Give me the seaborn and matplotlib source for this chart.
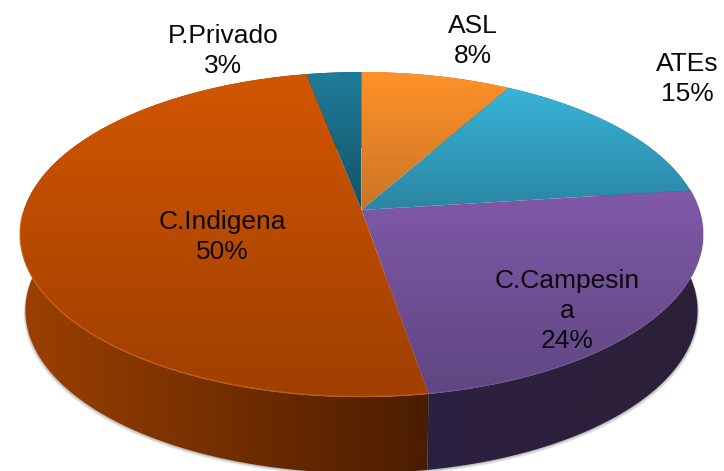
import numpy as np
import seaborn as sns
import matplotlib.pyplot as plt
from matplotlib.patches import Polygon

labels = ['ASL', 'ATEs', 'C.Campesin\na', 'C.Indigena', 'P.Privado']
shares = [8.2, 14.8, 24.3, 49.7, 3]

top_light = ['#ff9229', '#38b3d8', '#8059a8', '#d25600', '#1e7d9b']
top_dark = ['#cb7426', '#2a86a2', '#5f4682', '#9f3f00', '#145265']
side_light = ['#a8601c', '#1f6378', '#2c2040', '#9c4000', '#10404f']
side_dark = ['#a8601c', '#1f6378', '#2c2039', '#4a1d00', '#10404f']

label_x = [473, 687, 567, 222, 223]
label_y = [41, 79, 311, 237, 51]

# pie centre and perspective of the tilted disc
cx, cy = 361.5, 210
rx, ry, k = 337.6, 158.8, 0.151
depth = 76

sns.set_style('white')
plt.rcParams['font.family'] = ['Liberation Sans', 'DejaVu Sans']

fig = plt.figure(figsize=(7.24, 4.71), dpi=100)
ax = fig.add_axes([0, 0, 1, 1])
ax.set_xlim(0, 724)
ax.set_ylim(471, 0)
ax.axis('off')


def project(angle, shrink=1.0, drop=0):
    u, v = np.sin(angle), np.cos(angle)
    w = 1 + k * v
    return np.column_stack([cx + rx * shrink * u / w, cy + drop - ry * v / w])


def shade(poly, c1, c2, horizontal=False, zorder=2):
    # gradient image clipped to the slice
    pal = sns.blend_palette([c1, c2], 128)
    img = np.array(pal)[None, :, :] if horizontal else np.array(pal)[:, None, :]
    ext = poly.get_xy()
    x0, x1, y0, y1 = ext[:, 0].min(), ext[:, 0].max(), ext[:, 1].min(), ext[:, 1].max()
    im = ax.imshow(img, extent=[x0, x1, y1, y0], aspect='auto', zorder=zorder, interpolation='bilinear')
    ax.add_patch(poly)
    im.set_clip_path(poly)


edges = np.cumsum([0] + shares) / sum(shares) * 2 * np.pi
front = np.radians(np.linspace(85, 275, 300))

# soft shadow under the wall, front side only
for grow, alpha in [(3, 0.10), (2, 0.16), (1, 0.22)]:
    ring = project(front, 0.984, depth + grow)
    ring[:, 0] += np.sign(ring[:, 0] - cx) * grow * 0.6
    ax.add_patch(Polygon(ring, fc='#606060', ec='none', alpha=alpha, zorder=1))

# wall
for i in range(len(shares)):
    a = np.linspace(edges[i], edges[i + 1], 200)
    wall = np.vstack([project(a), project(a[::-1], 0.984, depth)])
    shade(Polygon(wall, fc='none', ec='none', zorder=2), side_light[i], side_dark[i], True, 2)

# top of the disc
for i in range(len(shares)):
    a = np.linspace(edges[i], edges[i + 1], 200)
    slice_xy = np.vstack([[cx, cy], project(a)])
    shade(Polygon(slice_xy, fc='none', ec='none', zorder=3), top_light[i], top_dark[i], False, 3)

# lighter rim on the front edge
a = np.linspace(edges[3], edges[3] + (edges[4] - edges[3]) * 0.55, 200)
rim = project(a)
ax.plot(rim[:, 0], rim[:, 1] - 0.5, color='#d8691c', lw=1.0, alpha=0.6, zorder=4)
a = np.linspace(edges[2], edges[3], 200)
rim = project(a)
ax.plot(rim[:, 0], rim[:, 1] - 0.5, color='#7a5e9c', lw=1.0, alpha=0.5, zorder=4)

for i, name in enumerate(labels):
    ax.text(label_x[i], label_y[i], f'{name}\n{shares[i]:.0f}%', ha='center', va='center',
            fontsize=19, linespacing=1.3, color='#0a0a0a', zorder=5)

ax.set_xlim(0, 724)
ax.set_ylim(471, 0)
fig.savefig('out.png', dpi=100)
